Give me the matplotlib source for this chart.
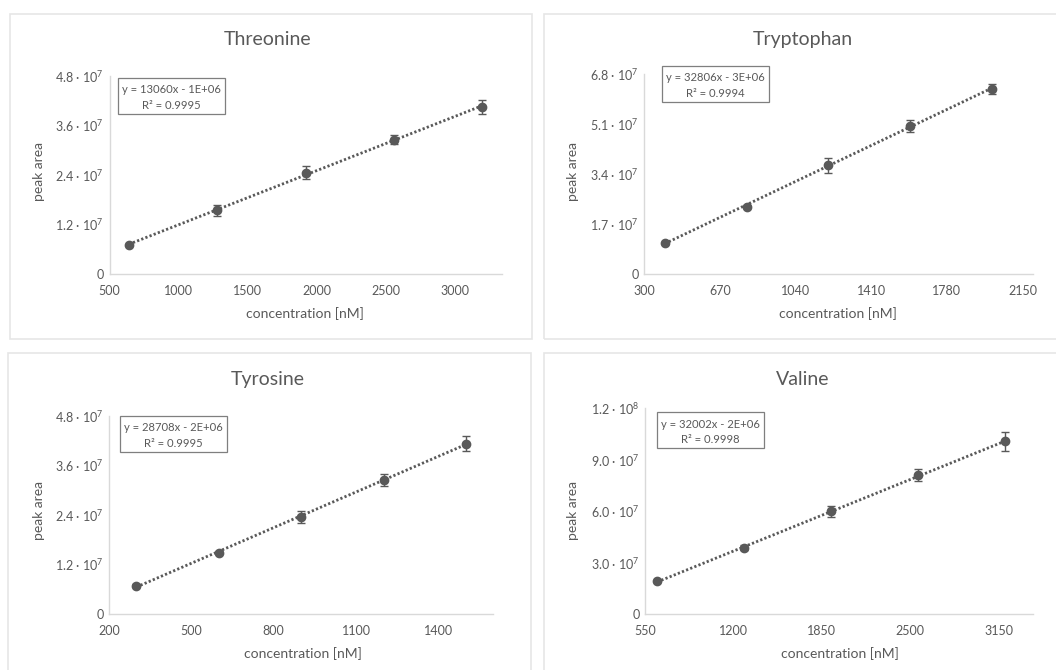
import matplotlib
matplotlib.use("Agg")
import matplotlib.pyplot as plt
from matplotlib.patches import Rectangle
from matplotlib.ticker import FixedLocator, FixedFormatter

plt.rcParams['font.family'] = ['Lato', 'DejaVu Sans']
plt.rcParams['mathtext.fontset'] = 'custom'
plt.rcParams['mathtext.rm'] = 'Lato'
plt.rcParams['mathtext.it'] = 'Lato:italic'
plt.rcParams['mathtext.bf'] = 'Lato:bold'

# ---------------- data ----------------
names = ["Threonine", "Tryptophan", "Tyrosine", "Valine"]

thr_x = [640, 1280, 1920, 2560, 3200]
thr_y = [7.05e6, 15.4e6, 24.6e6, 32.5e6, 40.5e6]
thr_err = [0.3e6, 1.3e6, 1.5e6, 1.1e6, 1.6e6]

trp_x = [400, 800, 1200, 1600, 2000]
trp_y = [10.6e6, 22.9e6, 37.0e6, 50.3e6, 63.0e6]
trp_err = [0.4e6, 0.5e6, 2.5e6, 2.1e6, 1.7e6]

tyr_x = [300, 600, 900, 1200, 1500]
tyr_y = [6.9e6, 14.9e6, 23.5e6, 32.5e6, 41.3e6]
tyr_err = [0.3e6, 0.4e6, 1.35e6, 1.5e6, 1.75e6]

val_x = [640, 1280, 1920, 2560, 3200]
val_y = [19.0e6, 38.7e6, 59.9e6, 80.9e6, 100.7e6]
val_err = [0.6e6, 1.5e6, 3.3e6, 3.5e6, 5.6e6]

equations = ["y = 13060x - 1E+06", "y = 32806x - 3E+06",
             "y = 28708x - 2E+06", "y = 32002x - 2E+06"]
r_squared = ["R² = 0.9995", "R² = 0.9994", "R² = 0.9995", "R² = 0.9998"]

x_ticks = [[500, 1000, 1500, 2000, 2500, 3000],
           [300, 670, 1040, 1410, 1780, 2150],
           [200, 500, 800, 1100, 1400],
           [550, 1200, 1850, 2500, 3150]]
x_lims = [(500, 3340), (300, 2200), (200, 1600), (550, 3400)]

y_ticks = [[0, 1.2e7, 2.4e7, 3.6e7, 4.8e7],
           [0, 1.7e7, 3.4e7, 5.1e7, 6.8e7],
           [0, 1.2e7, 2.4e7, 3.6e7, 4.8e7],
           [0, 3.0e7, 6.0e7, 9.0e7, 1.2e8]]
y_ticklabels = [["0", "1.2 · 10$^{7}$", "2.4 · 10$^{7}$", "3.6 · 10$^{7}$", "4.8 · 10$^{7}$"],
                ["0", "1.7 · 10$^{7}$", "3.4 · 10$^{7}$", "5.1 · 10$^{7}$", "6.8 · 10$^{7}$"],
                ["0", "1.2 · 10$^{7}$", "2.4 · 10$^{7}$", "3.6 · 10$^{7}$", "4.8 · 10$^{7}$"],
                ["0", "3.0 · 10$^{7}$", "6.0 · 10$^{7}$", "9.0 · 10$^{7}$", "1.2 · 10$^{8}$"]]

series_x = [thr_x, trp_x, tyr_x, val_x]
series_y = [thr_y, trp_y, tyr_y, val_y]
series_err = [thr_err, trp_err, tyr_err, val_err]

# ---------------- layout (pixels) ----------------
W, H = 1056, 670
TXT = "#595959"
AX = "#d9d9d9"

fig = plt.figure(figsize=(W / 100, H / 100), dpi=100)

def fx(x):
    return x / W

def fy(y):
    return 1 - y / H

# panel borders (left, top, right, bottom)
panels = [(10, 14, 532, 339), (544, 14, 1060, 339),
          (8, 353, 531, 674), (544, 353, 1060, 674)]
for (l, t, r, b) in panels:
    fig.add_artist(Rectangle((fx(l), fy(b)), fx(r - l), (b - t) / H,
                             transform=fig.transFigure, fill=False,
                             edgecolor="#e6e6e6", lw=1.2))

# axes rects (left, top, right, bottom)
ax_rects = [(109.5, 76, 501.7, 274), (644.3, 74, 1032.7, 274),
            (109, 416, 493.3, 614), (645, 408.3, 1032.7, 614)]
title_pos = [(267.7, 39.3), (803, 39.3), (267.7, 379.3), (803, 379.3)]
xlabel_pos = [(305, 313.3), (838, 313.3), (303, 653.3), (840, 653.3)]
ylabel_pos = [(39.3, 171.7), (573.3, 171.7), (39.3, 511), (573.3, 511)]
eq_boxes = [(117.7, 77.7, 225, 113.7), (662.3, 65.7, 769.3, 102),
            (119.7, 415.7, 227, 451.7), (657, 412.3, 764.3, 448.3)]

for i in range(4):
    l, t, r, b = ax_rects[i]
    ax = fig.add_axes([fx(l), fy(b), fx(r - l), (b - t) / H])
    xs, ys, es = series_x[i], series_y[i], series_err[i]
    # linear trendline over data range
    n = len(xs)
    mx = sum(xs) / n
    my = sum(ys) / n
    slope = sum((a - mx) * (c - my) for a, c in zip(xs, ys)) / sum((a - mx) ** 2 for a in xs)
    icpt = my - slope * mx
    tx = [xs[0], xs[-1]]
    ax.plot(tx, [slope * v + icpt for v in tx], color=TXT, lw=2.0,
            linestyle=(0, (0.8, 0.8)), zorder=2)
    ax.errorbar(xs, ys, yerr=es, fmt='o', color=TXT, ecolor=TXT,
                markersize=6, elinewidth=1, capsize=3, capthick=1, zorder=3)
    ax.set_xlim(*x_lims[i])
    ax.set_ylim(y_ticks[i][0], y_ticks[i][-1])
    ax.xaxis.set_major_locator(FixedLocator(x_ticks[i]))
    ax.xaxis.set_major_formatter(FixedFormatter([str(v) for v in x_ticks[i]]))
    ax.yaxis.set_major_locator(FixedLocator(y_ticks[i]))
    ax.yaxis.set_major_formatter(FixedFormatter(y_ticklabels[i]))
    for s in ["top", "right"]:
        ax.spines[s].set_visible(False)
    for s in ["left", "bottom"]:
        ax.spines[s].set_color(AX)
        ax.spines[s].set_linewidth(1.0)
    ax.tick_params(length=0, labelsize=9, colors=TXT)
    ax.tick_params(axis="x", pad=8)
    ax.tick_params(axis="y", pad=4)
    ax.set_facecolor("none")

    fig.text(fx(title_pos[i][0]), fy(title_pos[i][1]), names[i], ha="center",
             va="center", fontsize=14, color=TXT)
    fig.text(fx(xlabel_pos[i][0]), fy(xlabel_pos[i][1]), "concentration [nM]",
             ha="center", va="center", fontsize=10, color=TXT)
    fig.text(fx(ylabel_pos[i][0]), fy(ylabel_pos[i][1]), "peak area",
             ha="center", va="center", fontsize=10, color=TXT, rotation=90)

    bl, bt, br, bb = eq_boxes[i]
    fig.add_artist(Rectangle((fx(bl), fy(bb)), fx(br - bl), (bb - bt) / H,
                             transform=fig.transFigure, fill=True,
                             facecolor="white", edgecolor="#7f7f7f", lw=0.9,
                             zorder=5))
    cx = (bl + br) / 2
    h = bb - bt
    fig.text(fx(cx), fy(bt + h * 0.33), equations[i], ha="center", va="center",
             fontsize=8.1, color=TXT, zorder=6)
    fig.text(fx(cx), fy(bt + h * 0.76), r_squared[i], ha="center", va="center",
             fontsize=8.1, color=TXT, zorder=6)

fig.savefig("out.png", dpi=100)
